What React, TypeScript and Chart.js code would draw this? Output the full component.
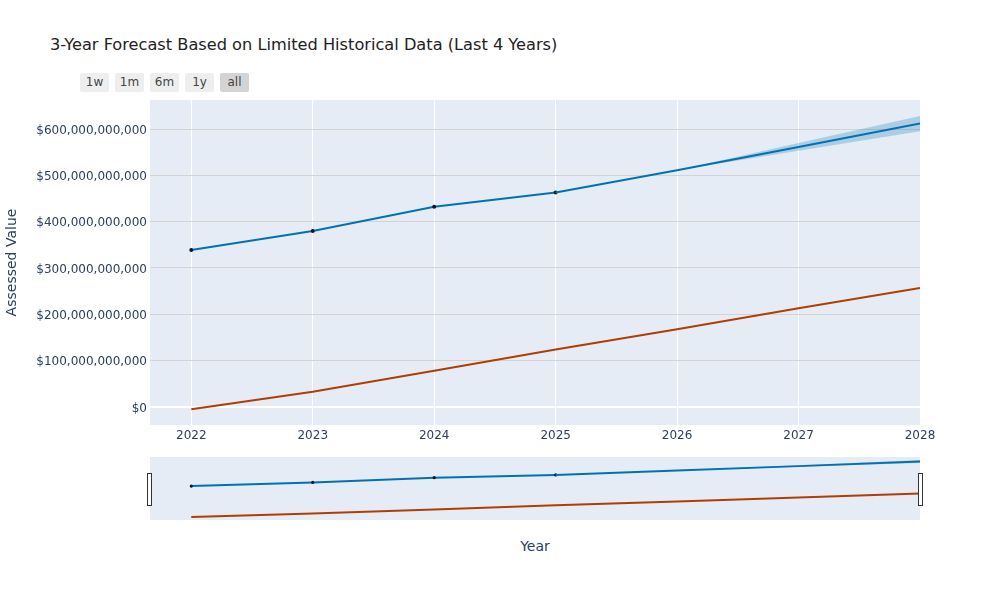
import React, { useEffect, useRef } from "react";
import { Chart, registerables } from "chart.js";

Chart.register(...registerables);

const years = [2022, 2023, 2024, 2025, 2026, 2027, 2028];
const historicalYears = [2022, 2023, 2024, 2025];
const historicalValues = [339, 380, 432, 463]; // billions
const forecastYears = [2025, 2026, 2027, 2028];
const forecastValues = [463, 511, 561, 612];
const bandYears = [2026, 2027, 2028];
const bandUpper = [511, 570, 628];
const bandLower = [511, 553, 595];
const trendValues = [-5, 33, 78, 124, 168, 213, 257];
const yTickValues = [0, 100, 200, 300, 400, 500, 600]; // billions
const xTickValues = [2022, 2023, 2024, 2025, 2026, 2027, 2028];
const rangeButtons = ["1w", "1m", "6m", "1y", "all"];

const X_MIN = 2021.66;
const X_MAX = 2028;
const Y_MIN = -38.9;
const Y_MAX = 662.6;

const BLUE = "#0072B2";
const ORANGE = "#B33C00";
const FONT = '"DejaVu Sans", Verdana, sans-serif';
const TEXT = "#2a3f5f";

const pts = (xs: number[], ys: number[]) => xs.map((x, i) => ({ x, y: ys[i] }));

function buildDatasets(slider: boolean): any[] {
  return [
    {
      data: pts(bandYears, bandUpper),
      borderWidth: 0,
      pointRadius: 0,
      fill: false,
    },
    {
      data: pts(bandYears, bandLower),
      borderWidth: 0,
      pointRadius: 0,
      fill: "-1",
      backgroundColor: "rgba(0,114,178,0.25)",
    },
    {
      data: pts(years, trendValues),
      borderColor: ORANGE,
      borderWidth: 2,
      pointRadius: 0,
      tension: 0,
    },
    {
      data: pts(forecastYears, forecastValues),
      borderColor: BLUE,
      borderWidth: 2,
      pointRadius: 0,
      tension: 0,
    },
    {
      data: pts(historicalYears, historicalValues),
      borderColor: BLUE,
      borderWidth: 2,
      pointRadius: slider ? 1.6 : 2,
      pointBorderWidth: 0,
      pointBackgroundColor: "#0b1a2a",
      tension: 0,
    },
  ];
}

const bgPlugin = {
  id: "plotBg",
  beforeDraw(chart: any) {
    const { ctx, chartArea } = chart;
    ctx.save();
    ctx.fillStyle = "#e5ecf6";
    ctx.fillRect(chartArea.left, chartArea.top, chartArea.right - chartArea.left, chartArea.bottom - chartArea.top);
    ctx.restore();
  },
};

const handlesPlugin = {
  id: "sliderHandles",
  afterDraw(chart: any) {
    const { ctx, chartArea } = chart;
    ctx.save();
    ctx.fillStyle = "#ffffff";
    ctx.strokeStyle = "#333";
    ctx.lineWidth = 1;
    const top = chartArea.top + 16.5;
    const h = 32;
    [chartArea.left - 2.5, chartArea.right - 1.5].forEach((x) => {
      ctx.fillRect(x, top, 4, h);
      ctx.strokeRect(x, top, 4, h);
    });
    ctx.restore();
  },
};

export default function App() {
  const mainRef = useRef<HTMLCanvasElement>(null);
  const sliderRef = useRef<HTMLCanvasElement>(null);

  useEffect(() => {
    Chart.defaults.font.family = FONT;
    const main = new Chart(mainRef.current as HTMLCanvasElement, {
      type: "line",
      data: { datasets: buildDatasets(false) },
      plugins: [bgPlugin],
      options: {
        responsive: false,
        animation: false,
        layout: { padding: { top: 100, right: 80, left: 0, bottom: 0 } },
        plugins: { legend: { display: false }, title: { display: false }, tooltip: { enabled: false } },
        scales: {
          x: {
            type: "linear",
            min: X_MIN,
            max: X_MAX,
            border: { display: false },
            grid: { color: "#ffffff", lineWidth: 1, drawTicks: false },
            ticks: {
              padding: 4,
              color: TEXT,
              font: { size: 12, family: FONT },
              callback: (v: any) => String(v),
              maxRotation: 0,
              autoSkip: false,
            },
            afterBuildTicks: (s: any) => {
              s.ticks = xTickValues.map((v) => ({ value: v }));
            },
            afterFit: (s: any) => {
              s.height = 35;
            },
          },
          y: {
            type: "linear",
            min: Y_MIN,
            max: Y_MAX,
            border: { display: false },
            grid: {
              drawTicks: false,
              color: (c: any) => (c.tick && c.tick.value === 0 ? "#ffffff" : "#d3d3d3"),
              lineWidth: (c: any) => (c.tick && c.tick.value === 0 ? 2 : 1),
            },
            ticks: {
              padding: 3,
              labelOffset: 1.5,
              color: TEXT,
              autoSkip: false,
              font: { size: 12, family: FONT },
              callback: (v: any) => "$" + Math.round(Number(v) * 1e9).toLocaleString("en-US"),
            },
            afterBuildTicks: (s: any) => {
              s.ticks = yTickValues.map((v) => ({ value: v }));
            },
            title: {
              display: true,
              text: "Assessed Value",
              color: TEXT,
              font: { size: 14, family: FONT },
              padding: { top: 4, bottom: 4 },
            },
            afterFit: (s: any) => {
              s.width = 150;
            },
          },
        },
      } as any,
    });

    const slider = new Chart(sliderRef.current as HTMLCanvasElement, {
      type: "line",
      data: { datasets: buildDatasets(true) },
      plugins: [bgPlugin, handlesPlugin],
      options: {
        responsive: false,
        animation: false,
        layout: { padding: { top: 7, right: 80, left: 150, bottom: 5 } },
        plugins: { legend: { display: false }, title: { display: false }, tooltip: { enabled: false } },
        scales: {
          x: { type: "linear", min: X_MIN, max: X_MAX, display: false },
          y: { type: "linear", min: Y_MIN, max: Y_MAX, display: false },
        },
      } as any,
    });

    return () => {
      main.destroy();
      slider.destroy();
    };
  }, []);

  return (
    <div
      style={{
        position: "fixed",
        left: 0,
        top: 0,
        width: 1000,
        height: 600,
        background: "#ffffff",
        fontFamily: FONT,
        overflow: "hidden",
      }}
    >
      <div
        style={{
          position: "absolute",
          left: 50,
          top: 34,
          fontSize: 16.2,
          lineHeight: "22px",
          color: "#222",
          whiteSpace: "nowrap",
        }}
      >
        3-Year Forecast Based on Limited Historical Data (Last 4 Years)
      </div>
      {rangeButtons.map((b, i) => (
        <div
          key={b}
          style={{
            position: "absolute",
            left: 80 + i * 35,
            top: 73,
            width: 29,
            height: 19,
            lineHeight: "19px",
            textAlign: "center",
            fontSize: 12,
            color: "#444",
            background: b === "all" ? "#d4d4d4" : "#eeeeee",
            borderRadius: 2,
          }}
        >
          {b}
        </div>
      ))}
      <canvas
        ref={mainRef}
        width={1000}
        height={460}
        style={{ position: "absolute", left: 0, top: 0, width: 1000, height: 460 }}
      />
      <canvas
        ref={sliderRef}
        width={1000}
        height={75}
        style={{ position: "absolute", left: 0, top: 450, width: 1000, height: 75 }}
      />
      <div
        style={{
          position: "absolute",
          left: 150,
          width: 770,
          top: 536,
          textAlign: "center",
          fontSize: 14,
          lineHeight: "20px",
          color: TEXT,
        }}
      >
        Year
      </div>
    </div>
  );
}
